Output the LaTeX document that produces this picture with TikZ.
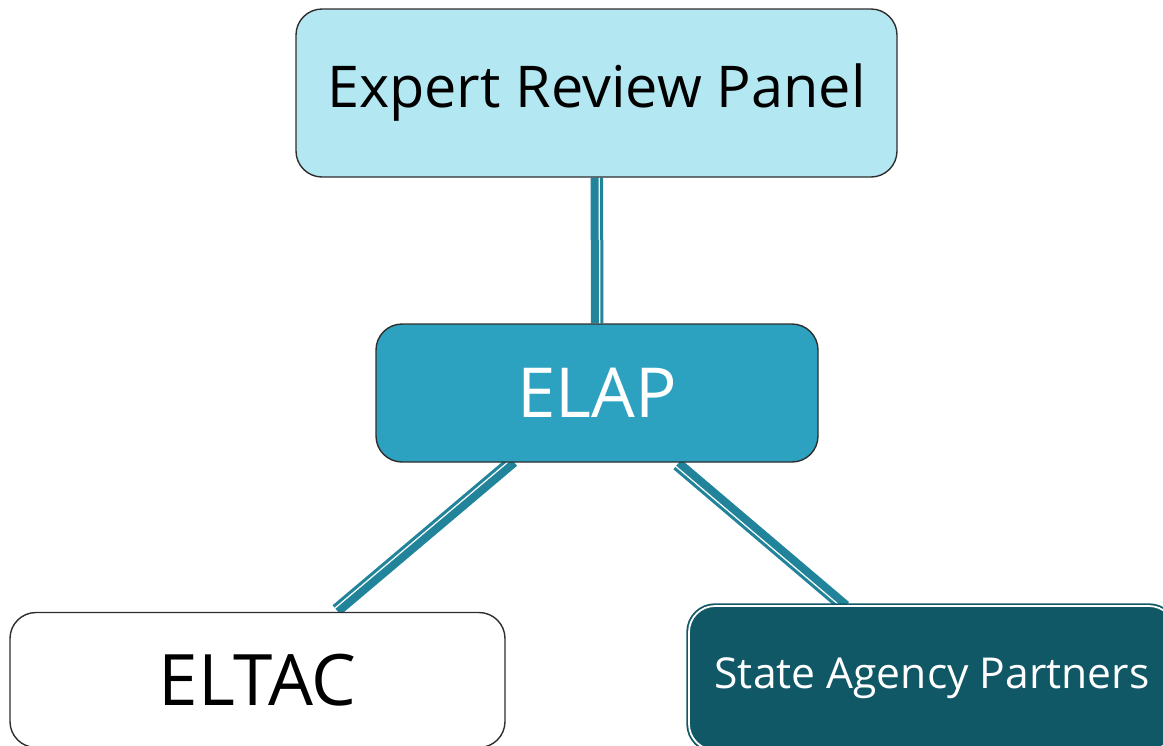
\documentclass[tikz,border=0pt]{standalone}
\usepackage{fontspec}
\setmainfont{Open Sans}
\usetikzlibrary{backgrounds}

\definecolor{panelblue}{HTML}{B3E7F2}
\definecolor{elapblue}{HTML}{2CA2C0}
\definecolor{partnerteal}{HTML}{115866}
\definecolor{linkteal}{HTML}{21849B}
\definecolor{boxline}{HTML}{2E2E2E}

\begin{document}
\begin{tikzpicture}[x=0.5pt,y=-0.5pt,
    box/.style={rectangle, rounded corners=13pt, draw=boxline, line width=0.7pt, align=center, inner sep=0pt},
    link/.style={draw=linkteal, line width=4pt},
    thin link/.style={draw=linkteal, line width=1.5pt, transform canvas={shift={#1}}}]
        \clip (0,0) rectangle (1163,745); % page size

        \node[box, fill=panelblue, minimum width=300.5pt, minimum height=84pt,
              font=\fontsize{28.8}{32}\selectfont] (erp) at (596.5,93) {Expert Review Panel};
        \node[box, fill=elapblue, minimum width=221pt, minimum height=69pt, text=white,
              font=\fontsize{34.5}{40}\selectfont] (elap) at (597,393) {ELAP};
        \node[box, fill=white, minimum width=247.5pt, minimum height=67.5pt,
              font=\fontsize{35.5}{38}\selectfont] (eltac) at (257.5,680) {ELTAC};
        \node[box, fill=partnerteal, draw=partnerteal, line width=0.9pt, double=white, double distance=0.9pt,
              minimum width=243pt, minimum height=72pt, text=white,
              font=\fontsize{21.3}{25}\selectfont] (sap) at (932,678) {State Agency Partners};

        % double lines behind the boxes
        \begin{pgfonlayer}{background}
        \draw[link, transform canvas={shift={(-2,0)}}] (erp) -- (elap);
        \draw[thin link={(5,0)}] (erp) -- (elap);
        \draw[link] (elap) -- (eltac);
        \draw[thin link={(-4.5,-5.4)}] (elap) -- (eltac);
        \draw[link] (elap) -- (sap);
        \draw[thin link={(-4.5,5.4)}] (elap) -- (sap);
        \end{pgfonlayer}
\end{tikzpicture}
\end{document}
